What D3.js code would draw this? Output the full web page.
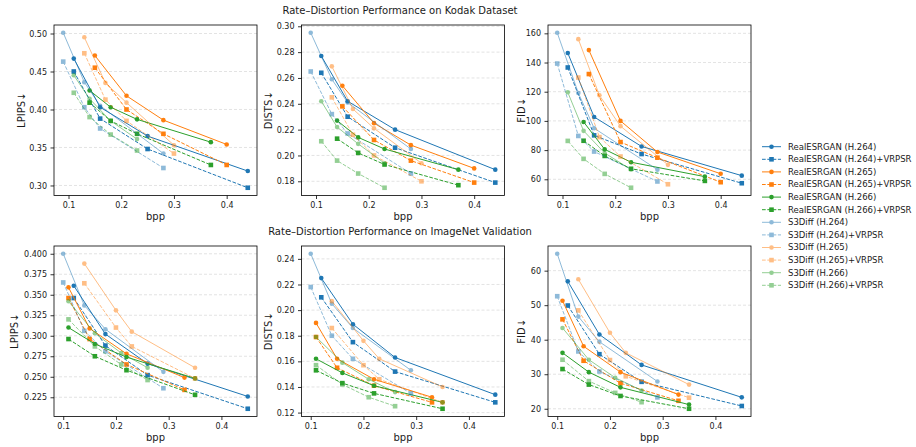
<!DOCTYPE html>
<html><head><meta charset="utf-8">
<script src="https://cdn.jsdelivr.net/npm/d3@7"></script>
<style>
body{margin:0;background:#fff;}
svg text{font-family:"DejaVu Sans",sans-serif;fill:#1a1a1a;}
</style></head><body>
<svg id="chart" width="916" height="447"></svg>
<script>
const seriesNames = [
  "RealESRGAN (H.264)", "RealESRGAN (H.264)+VRPSR",
  "RealESRGAN (H.265)", "RealESRGAN (H.265)+VRPSR",
  "RealESRGAN (H.266)", "RealESRGAN (H.266)+VRPSR",
  "S3Diff (H.264)", "S3Diff (H.264)+VRPSR",
  "S3Diff (H.265)", "S3Diff (H.265)+VRPSR",
  "S3Diff (H.266)", "S3Diff (H.266)+VRPSR"
];

// bitrate points for each (model, codec) pair; the +VRPSR run uses the same ones
const kodakBpp = [
  [0.11, 0.16, 0.25, 0.44], [0.15, 0.21, 0.28, 0.40], [0.14, 0.18, 0.23, 0.37],
  [0.09, 0.13, 0.16, 0.28], [0.13, 0.17, 0.21, 0.30], [0.11, 0.14, 0.18, 0.23]
];
const imagenetBpp = [
  [0.12, 0.18, 0.26, 0.45], [0.11, 0.15, 0.22, 0.33], [0.11, 0.16, 0.22, 0.35],
  [0.10, 0.14, 0.18, 0.29], [0.14, 0.20, 0.23, 0.35], [0.11, 0.16, 0.21, 0.26]
];

const kodakLPIPS = [
  [0.467, 0.403, 0.365, 0.319], [0.450, 0.388, 0.348, 0.297],
  [0.471, 0.418, 0.386, 0.354], [0.455, 0.400, 0.368, 0.327],
  [0.425, 0.403, 0.387, 0.357], [0.409, 0.385, 0.368, 0.327],
  [0.501, 0.436, 0.405, 0.342], [0.463, 0.403, 0.375, 0.323],
  [0.495, 0.435, 0.409, 0.353], [0.474, 0.413, 0.385, 0.342],
  [0.445, 0.414, 0.385, 0.361], [0.422, 0.390, 0.367, 0.346]
];
const kodakDISTS = [
  [0.277, 0.242, 0.220, 0.189], [0.264, 0.230, 0.206, 0.179],
  [0.254, 0.225, 0.208, 0.190], [0.238, 0.212, 0.196, 0.179],
  [0.227, 0.214, 0.205, 0.189], [0.213, 0.202, 0.193, 0.177],
  [0.295, 0.259, 0.241, 0.205], [0.265, 0.232, 0.217, 0.186],
  [0.269, 0.236, 0.221, 0.194], [0.245, 0.216, 0.200, 0.180],
  [0.242, 0.222, 0.209, 0.194], [0.211, 0.196, 0.186, 0.175]
];
const kodakFID = [
  [146.5, 102.7, 82.5, 62.5], [136.6, 90.1, 77.3, 57.3],
  [148.5, 100.0, 78.7, 63.8], [132.1, 85.5, 74.8, 58.0],
  [99.3, 80.5, 71.7, 61.8], [86.4, 76.0, 67.2, 58.9],
  [160.4, 119.1, 95.0, 66.6], [139.3, 89.7, 79.0, 58.5],
  [156.0, 117.5, 96.4, 69.9], [129.7, 88.9, 75.6, 56.6],
  [119.6, 93.2, 78.0, 66.7], [86.3, 74.0, 63.7, 54.2]
];

const imagenetLPIPS = [
  [0.361, 0.302, 0.266, 0.226], [0.346, 0.288, 0.252, 0.211],
  [0.359, 0.309, 0.278, 0.249], [0.346, 0.296, 0.265, 0.234],
  [0.310, 0.290, 0.274, 0.248], [0.296, 0.275, 0.258, 0.228],
  [0.400, 0.337, 0.308, 0.256], [0.365, 0.306, 0.281, 0.236],
  [0.388, 0.331, 0.305, 0.261], [0.364, 0.310, 0.287, 0.248],
  [0.342, 0.303, 0.279, 0.261], [0.320, 0.287, 0.265, 0.246]
];
const imagenetDISTS = [
  [0.225, 0.189, 0.163, 0.134], [0.210, 0.175, 0.152, 0.128],
  [0.190, 0.162, 0.146, 0.132], [0.179, 0.155, 0.141, 0.128],
  [0.162, 0.151, 0.141, 0.128], [0.153, 0.143, 0.135, 0.123],
  [0.244, 0.205, 0.186, 0.153], [0.218, 0.180, 0.162, 0.135],
  [0.207, 0.176, 0.162, 0.140], [0.186, 0.157, 0.146, 0.128],
  [0.179, 0.159, 0.146, 0.136], [0.157, 0.142, 0.132, 0.125]
];
const imagenetFID = [
  [56.9, 41.5, 32.7, 23.3], [49.9, 35.8, 27.8, 20.8],
  [51.3, 38.1, 30.6, 24.1], [45.9, 33.9, 27.4, 22.3],
  [36.2, 30.6, 26.2, 21.2], [31.5, 27.0, 23.7, 20.0],
  [64.9, 46.7, 39.4, 27.9], [52.6, 36.6, 30.8, 23.3],
  [57.5, 42.0, 36.2, 27.0], [48.5, 34.1, 29.4, 23.2],
  [43.4, 34.2, 29.0, 25.3], [34.2, 28.0, 24.6, 21.9]
];

const bppTicks = [0.1, 0.2, 0.3, 0.4];
const kodakLPIPSTicks = [0.30, 0.35, 0.40, 0.45, 0.50];
const kodakDISTSTicks = [0.18, 0.20, 0.22, 0.24, 0.26, 0.28, 0.30];
const kodakFIDTicks = [60, 80, 100, 120, 140, 160];
const imagenetLPIPSTicks = [0.225, 0.250, 0.275, 0.300, 0.325, 0.350, 0.375, 0.400];
const imagenetDISTSTicks = [0.12, 0.14, 0.16, 0.18, 0.20, 0.22, 0.24];
const imagenetFIDTicks = [20, 30, 40, 50, 60];

const rowTitles = [
  "Rate\u2013Distortion Performance on Kodak Dataset",
  "Rate\u2013Distortion Performance on ImageNet Validation"
];

// ---- styling ----
const palette = ["#1f77b4", "#ff7f0e", "#2ca02c"];
const colorOf = i => palette[Math.floor(i / 2) % 3];
const alphaOf = i => (i >= 6 ? 0.5 : 1);
const dashedOf = i => i % 2 === 1;

const svg = d3.select("#chart");
const W = 203, H = 170.5;
const lefts = [54, 301.5, 548];
const tops = [25, 246];

const panels = [
  {row: 0, col: 0, bpp: kodakBpp, vals: kodakLPIPS, ticks: kodakLPIPSTicks, fmt: ".2f", label: "LPIPS\u2193", labelX: 21},
  {row: 0, col: 1, bpp: kodakBpp, vals: kodakDISTS, ticks: kodakDISTSTicks, fmt: ".2f", label: "DISTS\u2193", labelX: 268},
  {row: 0, col: 2, bpp: kodakBpp, vals: kodakFID, ticks: kodakFIDTicks, fmt: "d", label: "FID\u2193", labelX: 521},
  {row: 1, col: 0, bpp: imagenetBpp, vals: imagenetLPIPS, ticks: imagenetLPIPSTicks, fmt: ".3f", label: "LPIPS\u2193", labelX: 14},
  {row: 1, col: 1, bpp: imagenetBpp, vals: imagenetDISTS, ticks: imagenetDISTSTicks, fmt: ".2f", label: "DISTS\u2193", labelX: 268},
  {row: 1, col: 2, bpp: imagenetBpp, vals: imagenetFID, ticks: imagenetFIDTicks, fmt: "d", label: "FID\u2193", labelX: 521}
];

function padded(ext) {
  const m = (ext[1] - ext[0]) * 0.05;
  return [ext[0] - m, ext[1] + m];
}

function drawMarker(g, i, cx, cy) {
  const c = colorOf(i);
  if (dashedOf(i)) {
    const s = 4.6;
    g.append("rect").attr("x", cx - s / 2).attr("y", cy - s / 2)
      .attr("width", s).attr("height", s).attr("fill", c);
  } else {
    g.append("circle").attr("cx", cx).attr("cy", cy).attr("r", 2.3).attr("fill", c);
  }
}

panels.forEach(p => {
  const L = lefts[p.col], T = tops[p.row];
  const xs = d3.scaleLinear().domain(padded(d3.extent(p.bpp.flat()))).range([L, L + W]);
  const ys = d3.scaleLinear().domain(padded(d3.extent(p.vals.flat()))).range([T + H, T]);
  const g = svg.append("g");

  // horizontal grid
  g.append("g").selectAll("line").data(p.ticks).join("line")
    .attr("x1", L).attr("x2", L + W)
    .attr("y1", d => ys(d)).attr("y2", d => ys(d))
    .attr("stroke", "#b0b0b0").attr("stroke-opacity", 0.45)
    .attr("stroke-width", 0.8).attr("stroke-dasharray", "3,2");

  // series
  p.vals.forEach((vals, i) => {
    const bpp = p.bpp[Math.floor(i / 2)];
    const pts = vals.map((v, k) => [xs(bpp[k]), ys(v)]);
    const sg = g.append("g").attr("opacity", alphaOf(i));
    sg.append("path").attr("d", d3.line()(pts))
      .attr("fill", "none").attr("stroke", colorOf(i)).attr("stroke-width", 1)
      .attr("stroke-dasharray", dashedOf(i) ? "3.7,1.6" : null);
    pts.forEach(pt => drawMarker(sg, i, pt[0], pt[1]));
  });

  // frame
  g.append("rect").attr("x", L).attr("y", T).attr("width", W).attr("height", H)
    .attr("fill", "none").attr("stroke", "#000").attr("stroke-width", 0.8);

  // axes
  const xa = g.append("g").attr("transform", `translate(0,${T + H})`)
    .call(d3.axisBottom(xs).tickValues(bppTicks).tickFormat(d3.format(".1f"))
      .tickSize(3.5).tickPadding(3.5));
  const ya = g.append("g").attr("transform", `translate(${L},0)`)
    .call(d3.axisLeft(ys).tickValues(p.ticks).tickFormat(d3.format(p.fmt))
      .tickSize(3.5).tickPadding(3.5));
  [xa, ya].forEach(a => {
    a.select(".domain").remove();
    a.selectAll(".tick line").attr("stroke", "#000").attr("stroke-width", 0.8);
    a.selectAll(".tick text").attr("font-size", 8).attr("fill", "#1a1a1a")
      .style("font-family", "'DejaVu Sans', sans-serif");
  });

  g.append("text").attr("x", L + W / 2).attr("y", T + H + 24.5)
    .attr("text-anchor", "middle").attr("font-size", 10).text("bpp");
  g.append("text")
    .attr("transform", `translate(${p.labelX},${T + H / 2}) rotate(-90)`)
    .attr("text-anchor", "middle").attr("dy", "0.35em").attr("font-size", 10).text(p.label);
});

// row titles
rowTitles.forEach((t, r) => {
  svg.append("text").attr("x", 400).attr("y", r === 0 ? 14 : 235)
    .attr("text-anchor", "middle").attr("font-size", 10).text(t);
});

// legend
const lg = svg.append("g");
seriesNames.forEach((name, i) => {
  const y = 146.7 + i * 12.6;
  const row = lg.append("g").attr("opacity", alphaOf(i));
  row.append("line").attr("x1", 762).attr("x2", 781).attr("y1", y).attr("y2", y)
    .attr("stroke", colorOf(i)).attr("stroke-width", 1)
    .attr("stroke-dasharray", dashedOf(i) ? "3.7,1.6" : null);
  drawMarker(row, i, 771.5, y);
  lg.append("text").attr("x", 788).attr("y", y).attr("dy", "0.35em")
    .attr("font-size", 8.5).text(name);
});
</script>
</body></html>
